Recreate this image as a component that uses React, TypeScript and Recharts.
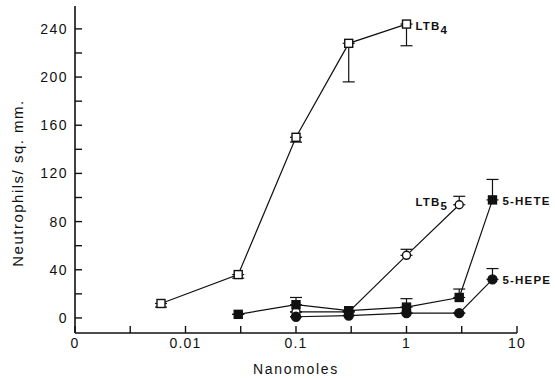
import { LineChart, Line, XAxis, YAxis, ErrorBar, LabelList } from 'recharts';

// nanomoles (log axis, "0" is drawn at 0.001)
const ltb4X = [0.006, 0.03, 0.1, 0.3, 1];
const ltb4Y = [12, 36, 150, 228, 244];
const ltb4Err = [[3, 0], [3, 0], [4, 0], [32, 0], [18, 0]];

const ltb5X = [0.1, 0.3, 1, 3];
const ltb5Y = [5, 5, 52, 94];
const ltb5Err = [[0, 0], [0, 0], [0, 5], [0, 7]];

const heteX = [0.03, 0.1, 0.3, 1, 3, 6];
const heteY = [3, 11, 6, 9, 17, 98];
const heteErr = [[0, 0], [0, 6], [0, 0], [0, 7], [0, 7], [0, 17]];

const hepeX = [0.1, 0.3, 1, 3, 6];
const hepeY = [1, 2, 4, 4, 32];
const hepeErr = [[0, 0], [0, 0], [0, 0], [0, 0], [0, 9]];

const xTicks = [0.001, 0.00316, 0.01, 0.0316, 0.1, 0.316, 1, 3.16, 10];
const xLabels: Record<number, string> = { 0.001: '0', 0.01: '0.01', 0.1: '0.1', 1: '1', 10: '10' };
const yTicks = [0, 20, 40, 60, 80, 100, 120, 140, 160, 180, 200, 220, 240];

const FONT = '"Liberation Sans", Arial, sans-serif';
const INK = '#111';

const rows = (xs: number[], ys: number[], errs: number[][]) =>
  xs.map((x, i) => ({ x, y: ys[i], err: errs[i] }));

const XTick = (props: any) => {
  const { x, y, payload } = props;
  const label = xLabels[payload.value];
  return (
    <g>
      <line x1={x} x2={x} y1={y} y2={y - 7} stroke={INK} strokeWidth={1.4} />
      {label && (
        <text x={x} y={y + 15} textAnchor="middle" fontSize={14} fontFamily={FONT} fill={INK} letterSpacing={1.2}>
          {label}
        </text>
      )}
    </g>
  );
};

const YTick = (props: any) => {
  const { x, y, payload } = props;
  const major = payload.value % 40 === 0;
  return (
    <g>
      <line x1={x} x2={x + 7} y1={y} y2={y} stroke={INK} strokeWidth={1.4} />
      {major && (
        <text x={x - 7} y={y + 5} textAnchor="end" fontSize={14} fontFamily={FONT} fill={INK} letterSpacing={1.5}>
          {payload.value}
        </text>
      )}
    </g>
  );
};

const YTitle = () => (
  <text x={23} y={183} transform="rotate(-90 23 183)" textAnchor="middle" fontSize={15}
    fontFamily={FONT} fill={INK} letterSpacing={1.5}>
    Neutrophils/ sq. mm.
  </text>
);

const square = (filled: boolean) => (p: any) => (
  <rect key={`s-${p.index}`} x={p.cx - 4} y={p.cy - 4} width={8} height={8}
    fill={filled ? INK : '#fff'} stroke={INK} strokeWidth={1.4} />
);
const circle = (filled: boolean) => (p: any) => (
  <circle key={`c-${p.index}`} cx={p.cx} cy={p.cy} r={filled ? 4.5 : 4}
    fill={filled ? INK : '#fff'} stroke={INK} strokeWidth={1.4} />
);

const seriesLabel = (name: string, sub: string, last: number, dx: number, dy: number, anchor: string) => (p: any) => {
  if (p.index !== last) return null;
  return (
    <text x={p.x + dx} y={p.y + dy} textAnchor={anchor} fontSize={11.5} fontWeight="bold"
      fontFamily={FONT} fill={INK} letterSpacing={1.2}>
      {name}
      {sub && <tspan dy={4} fontSize={11.5}>{sub}</tspan>}
    </text>
  );
};

export default function App() {
  return (
    <div style={{ position: 'absolute', left: 0, top: 0, background: '#fff' }}>
      <LineChart width={555} height={378} margin={{ top: 6, right: 38, bottom: 0, left: 0 }}>
        <XAxis type="number" dataKey="x" scale="log" domain={[0.001, 10]} ticks={xTicks}
          interval={0} tickSize={0} tickMargin={0} height={45} allowDataOverflow
          axisLine={{ stroke: INK, strokeWidth: 1.6 }} tickLine={false} tick={XTick}
          label={{ value: 'Nanomoles', position: 'insideBottom', offset: 4, fontSize: 14, fontFamily: FONT, fill: INK, letterSpacing: 1.7 } as any} />
        <YAxis type="number" domain={[-12.5, 259]} ticks={yTicks} interval={0} width={75}
          tickSize={0} tickMargin={0} allowDataOverflow
          axisLine={{ stroke: INK, strokeWidth: 1.6 }} tickLine={false} tick={YTick}
          label={{ value: 'Neutrophils/ sq. mm.', content: YTitle } as any} />
        <Line data={rows(ltb4X, ltb4Y, ltb4Err)} dataKey="y" type="linear" stroke={INK} strokeWidth={1.2}
          dot={square(false)} isAnimationActive={false}>
          <ErrorBar dataKey="err" direction="y" width={6} stroke={INK} strokeWidth={1.2} />
          <LabelList dataKey="y" content={seriesLabel('LTB', '4', 4, 9, 6, 'start')} />
        </Line>
        <Line data={rows(ltb5X, ltb5Y, ltb5Err)} dataKey="y" type="linear" stroke={INK} strokeWidth={1.2}
          dot={circle(false)} isAnimationActive={false}>
          <ErrorBar dataKey="err" direction="y" width={6} stroke={INK} strokeWidth={1.2} />
          <LabelList dataKey="y" content={seriesLabel('LTB', '5', 3, -11, 1, 'end')} />
        </Line>
        <Line data={rows(heteX, heteY, heteErr)} dataKey="y" type="linear" stroke={INK} strokeWidth={1.2}
          dot={square(true)} isAnimationActive={false}>
          <ErrorBar dataKey="err" direction="y" width={6} stroke={INK} strokeWidth={1.2} />
          <LabelList dataKey="y" content={seriesLabel('5-HETE', '', 5, 10, 5, 'start')} />
        </Line>
        <Line data={rows(hepeX, hepeY, hepeErr)} dataKey="y" type="linear" stroke={INK} strokeWidth={1.2}
          dot={circle(true)} isAnimationActive={false}>
          <ErrorBar dataKey="err" direction="y" width={6} stroke={INK} strokeWidth={1.2} />
          <LabelList dataKey="y" content={seriesLabel('5-HEPE', '', 4, 10, 5, 'start')} />
        </Line>
      </LineChart>
    </div>
  );
}
